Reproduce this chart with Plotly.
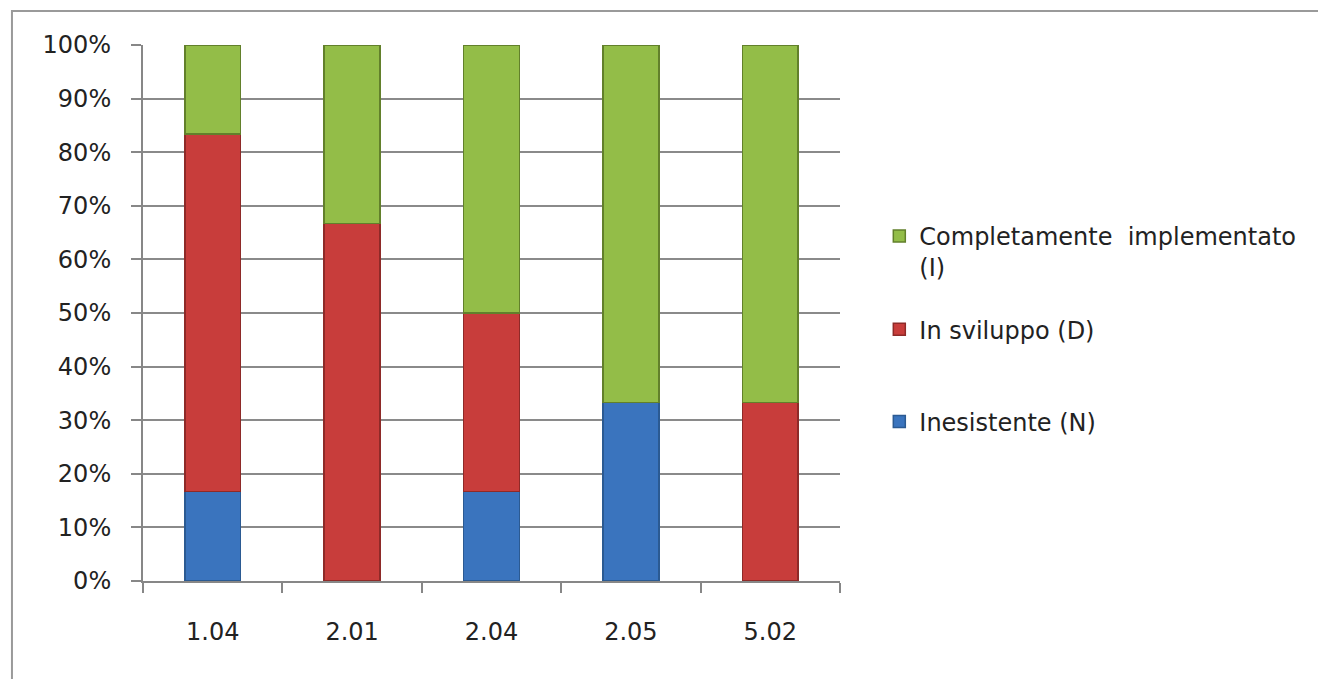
import plotly.graph_objects as go

categories = ["1.04", "2.01", "2.04", "2.05", "5.02"]
inesistente = [16.7, 0.0, 16.7, 33.3, 0.0]
in_sviluppo = [66.7, 66.7, 33.3, 0.0, 33.3]
completamente = [16.6, 33.3, 50.0, 66.7, 66.7]
series_names = ["Inesistente (N)", "In sviluppo (D)", "Completamente  implementato<br>(I)"]
series_colors = ["#3A74BE", "#C83D3B", "#93BD48"]
line_colors = ["#2B5A92", "#8E2A28", "#62802B"]
y_ticks = [0, 10, 20, 30, 40, 50, 60, 70, 80, 90, 100]
y_tick_labels = [f"{v}%" for v in y_ticks]

FONT = "DejaVu Sans"
FS = 24
legend_ids = ["legend3", "legend2", "legend"]
fig = go.Figure()
for i, vals in enumerate([inesistente, in_sviluppo, completamente]):
    fig.add_trace(go.Bar(
        x=categories, y=vals, name=series_names[i],
        marker=dict(color=series_colors[i], line=dict(color=line_colors[i], width=1.5)),
        legend=legend_ids[i],
    ))

def leg(y):
    return dict(x=1.0564, y=y, xanchor="left", yanchor="top", valign="top",
                bgcolor="rgba(0,0,0,0)",
                font=dict(family=FONT, size=FS, color="#222222"))

fig.update_layout(
    barmode="stack",
    bargap=0.6,
    width=1318, height=671,
    margin=dict(l=135, r=486, t=37, b=98),
    paper_bgcolor="white", plot_bgcolor="white",
    font=dict(family=FONT, size=FS, color="#222222"),
    showlegend=True,
    legend=leg(0.685),
    legend2=leg(0.511),
    legend3=leg(0.339),
    xaxis=dict(
        type="category", showline=True, linecolor="#878787", linewidth=2,
        ticks="outside", tickson="boundaries", ticklen=10, tickcolor="#878787", tickwidth=2,
        showgrid=False, ticklabelstandoff=28,
    ),
    yaxis=dict(
        range=[0, 100], tickvals=y_ticks, ticktext=y_tick_labels,
        showline=True, linecolor="#878787", linewidth=2,
        ticks="outside", ticklen=10, tickcolor="#878787", tickwidth=2,
        showgrid=True, gridcolor="#8A8A8A", gridwidth=2,
        ticklabelstandoff=15, zeroline=False,
    ),
    shapes=[dict(type="rect", xref="paper", yref="paper",
                 x0=-0.188, x1=1.75, y0=-0.25, y1=1.0635,
                 line=dict(color="#9A9A9A", width=2), layer="below")],
)

fig.write_html("out.html")
